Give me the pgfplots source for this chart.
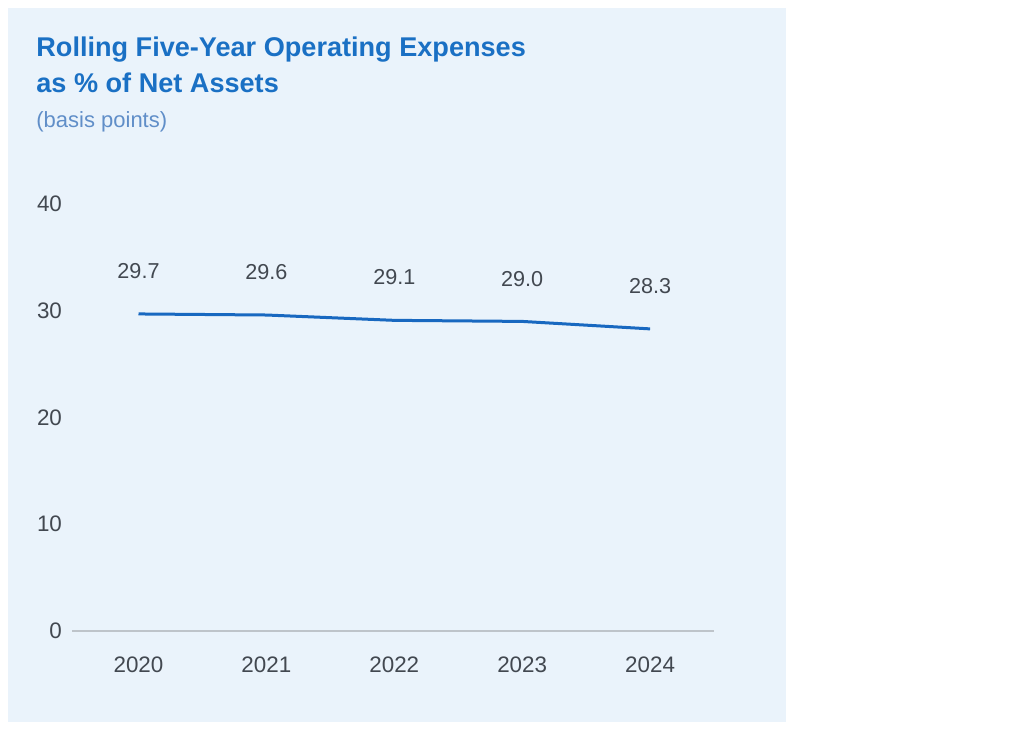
\documentclass[border=0pt]{standalone}
\usepackage{pgfplots}
\pgfplotsset{compat=1.18}
\usepackage{fontspec}
\setmainfont{Liberation Sans}
\definecolor{bg}{RGB}{234,243,251}
\definecolor{titleblue}{RGB}{26,112,196}
\definecolor{subblue}{RGB}{96,142,200}
\definecolor{lineblue}{RGB}{24,104,192}
\definecolor{txtgray}{RGB}{66,72,80}
\definecolor{basegray}{RGB}{190,196,202}
\begin{document}
\begin{tikzpicture}[x=1pt,y=1pt]
\useasboundingbox (0,0) rectangle (512,365.5);
\fill[bg] (4,4.5) rectangle (393,361.5);
\node[anchor=base west,inner sep=0pt,text=titleblue,font=\fontsize{13.55}{15}\selectfont\bfseries] at (18,337) {Rolling Five-Year Operating Expenses};
\node[anchor=base west,inner sep=0pt,text=titleblue,font=\fontsize{13.55}{15}\selectfont\bfseries] at (18,319) {as \% of Net Assets};
\node[anchor=base west,inner sep=0pt,text=subblue,font=\fontsize{11}{13}\selectfont] at (18,301.5) {(basis points)};
\begin{axis}[
  at={(36pt,50pt)}, anchor=south west,
  scale only axis, width=321pt, height=213.5pt,
  xmin=-0.52, xmax=4.5, ymin=0, ymax=40,
  axis x line*=bottom, axis y line*=left,
  x axis line style={draw=basegray, line width=0.6pt, -},
  y axis line style={draw=none},
  xtick={0,1,2,3,4},
  xticklabels={2020,2021,2022,2023,2024},
  ytick={0,10,20,30,40},
  major tick length=0pt,
  tick label style={text=txtgray, font=\fontsize{11.2}{13}\selectfont},
  /pgf/number format/assume math mode=true,
  xticklabel style={yshift=-9.5pt},
  yticklabel style={xshift=-1.5pt},
  clip=false,
  nodes near coords,
  nodes near coords style={text=txtgray, font=\fontsize{10.8}{12}\selectfont, anchor=south, yshift=13.5pt,
    /pgf/number format/.cd, fixed, fixed zerofill, precision=1},
]
\addplot[lineblue, line width=1.5pt, mark=none] coordinates {
  (0,29.7) (1,29.6) (2,29.1) (3,29.0) (4,28.3)
};
\end{axis}
\end{tikzpicture}
\end{document}
